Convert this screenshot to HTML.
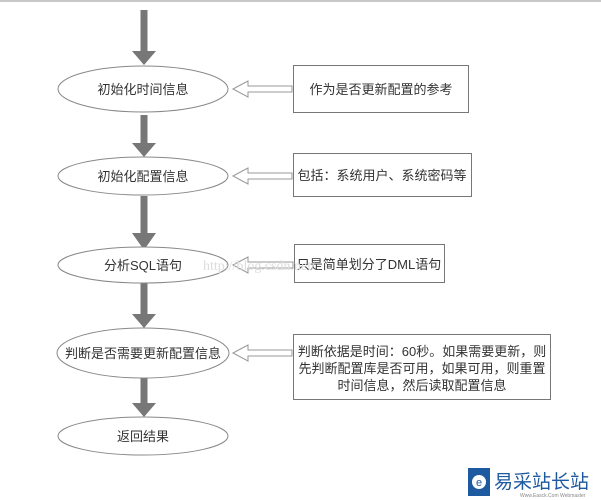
<!DOCTYPE html>
<html><head><meta charset="utf-8"><style>
html,body{margin:0;padding:0;background:#fff;}
svg{display:block;}
text{font-family:"Liberation Sans","Noto Sans CJK SC",sans-serif;fill:#333;}
</style></head><body>
<svg width="601" height="500" viewBox="0 0 601 500" xmlns="http://www.w3.org/2000/svg">
<rect x="0" y="0" width="601" height="2" fill="#c8c8c8"/>
<g fill="#777">
<rect x="140.5" y="10" width="7" height="42"/><polygon points="132,51 156,51 144,65"/>
<rect x="140.5" y="115" width="7" height="30"/><polygon points="132,143 156,143 144,157"/>
<rect x="140.5" y="196" width="7" height="38"/><polygon points="132,233 156,233 144,250"/>
<rect x="140.5" y="283" width="7" height="33"/><polygon points="132,314 156,314 144,328"/>
<rect x="140.5" y="378" width="7" height="26"/><polygon points="132,403 156,403 144,417"/>
</g>
<g fill="#fff" stroke="#888" stroke-width="1">
<ellipse cx="143" cy="89" rx="85" ry="23"/>
<ellipse cx="143" cy="176" rx="85" ry="19"/>
<ellipse cx="143" cy="265" rx="85" ry="18"/>
<ellipse cx="143" cy="353" rx="86" ry="25"/>
<ellipse cx="143" cy="436" rx="85" ry="19"/>
</g>
<g fill="#fff" stroke="#999" stroke-width="1">
<polygon points="233,89 248,81 248,86 292,86 292,92 248,92 248,97"/>
<polygon points="233,176 248,168 248,173 292,173 292,179 248,179 248,184"/>
<polygon points="233,265 248,257 248,262 293,262 293,268 248,268 248,273"/>
<polygon points="233,353 248,345 248,350 292,350 292,356 248,356 248,361"/>
</g>
<g fill="#fff" stroke="#777" stroke-width="1">
<rect x="293.5" y="65.5" width="175" height="47"/>
<rect x="293.5" y="153.5" width="178" height="43"/>
<rect x="294.5" y="244.5" width="150" height="38"/>
<rect x="293.5" y="334.5" width="257" height="65"/>
</g>
<g font-size="13" text-anchor="middle">
<text x="143" y="94">初始化时间信息</text>
<text x="143" y="181">初始化配置信息</text>
<text x="143" y="270">分析SQL语句</text>
<text x="143" y="358">判断是否需要更新配置信息</text>
<text x="143" y="441">返回结果</text>
<text x="381" y="94">作为是否更新配置的参考</text>
<text x="382" y="180">包括：系统用户、系统密码等</text>
<text x="369" y="269">只是简单划分了DML语句</text>
<text x="422" y="356">判断依据是时间：60秒。如果需要更新，则</text>
<text x="422" y="373">先判断配置库是否可用，如果可用，则重置</text>
<text x="422" y="390">时间信息，然后读取配置信息</text>
</g>
<text x="203" y="270" font-size="14" fill="#ddd" style="fill:#ddd;font-family:'Liberation Serif',serif">http://blog.csdn.net/</text>
<rect x="468" y="468" width="22" height="28" fill="#1e5aa0"/>
<circle cx="479" cy="482" r="7" fill="#fff"/>
<text x="479" y="486" font-size="11" text-anchor="middle" style="fill:#1e5aa0">e</text>
<text x="494" y="488" font-size="19" style="fill:#1e5aa0">易采站长站</text>
<text x="520" y="497" font-size="5" style="fill:#888">Www.Easck.Com Webmaster</text>
</svg>
</body></html>
